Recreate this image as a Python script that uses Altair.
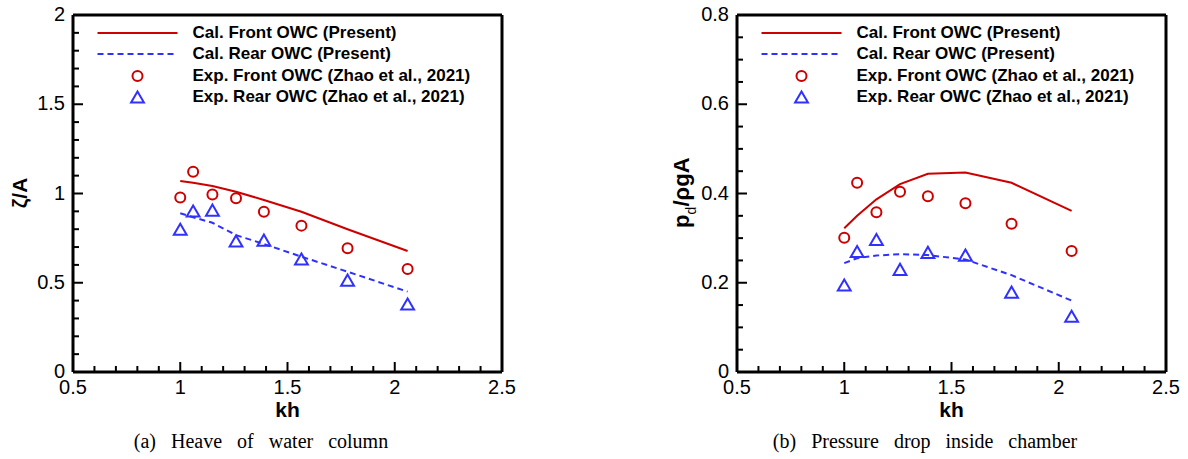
import altair as alt
import pandas as pd

# ---------------- data ----------------
kh = [1.0, 1.06, 1.15, 1.26, 1.39, 1.565, 1.78, 2.06]

heave_cal_front = [1.07, 1.06, 1.042, 1.01, 0.964, 0.898, 0.80, 0.678]
heave_cal_rear = [0.889, 0.867, 0.836, 0.767, 0.717, 0.646, 0.562, 0.45]
heave_exp_front = [0.978, 1.122, 0.995, 0.973, 0.898, 0.82, 0.693, 0.577]
heave_exp_rear = [0.80, 0.902, 0.907, 0.734, 0.739, 0.633, 0.515, 0.381]

press_cal_front = [0.322, 0.35, 0.387, 0.421, 0.444, 0.447, 0.424, 0.361]
press_cal_rear = [0.244, 0.255, 0.261, 0.264, 0.262, 0.252, 0.217, 0.16]
press_exp_front = [0.301, 0.424, 0.358, 0.404, 0.394, 0.378, 0.332, 0.271]
press_exp_rear = [0.195, 0.27, 0.297, 0.23, 0.268, 0.262, 0.179, 0.125]

x_major = [0.5, 1.0, 1.5, 2.0, 2.5]
x_minor = [0.6, 0.7, 0.8, 0.9, 1.1, 1.2, 1.3, 1.4, 1.6, 1.7, 1.8, 1.9, 2.1, 2.2, 2.3, 2.4]
heave_y_major = [0, 0.5, 1.0, 1.5, 2.0]
heave_y_minor = [0.1, 0.2, 0.3, 0.4, 0.6, 0.7, 0.8, 0.9, 1.1, 1.2, 1.3, 1.4, 1.6, 1.7, 1.8, 1.9]
press_y_major = [0, 0.2, 0.4, 0.6, 0.8]
press_y_minor = [0.05, 0.1, 0.15, 0.25, 0.3, 0.35, 0.45, 0.5, 0.55, 0.65, 0.7, 0.75]

legend_labels = [
    "Cal. Front OWC (Present)",
    "Cal. Rear OWC (Present)",
    "Exp. Front OWC (Zhao et al., 2021)",
    "Exp. Rear OWC (Zhao et al., 2021)",
]
captions = ["(a)\u2002\u00a0Heave\u2002\u00a0of\u2002\u00a0water\u2002\u00a0column",
            "(b)\u2002\u00a0Pressure\u2002\u00a0drop\u2002\u00a0inside\u2002\u00a0chamber"]

RED = "#cc0000"
BLUE = "#3030ff"
INK = "black"
SANS = "Liberation Sans"
SERIF = "Liberation Serif"

# whole drawing area (single layered chart)
TW, TH = 1178, 449
PW, PH = 429, 357          # size of each panel's frame
TOP = 10                   # frame top
BOT = TOP + PH             # frame bottom
LEFTS = [68, 732]          # frame left edges of the two panels


def one(v):
    return pd.DataFrame({"v": [v]})


def panel(x0, cal_f, cal_r, exp_f, exp_r, ymax, ymaj, ymin, caption):
    x1 = x0 + PW
    df = pd.DataFrame({"kh": kh, "cf": cal_f, "cr": cal_r, "ef": exp_f, "er": exp_r})
    xs = alt.Scale(domain=[0.5, 2.5], range=[x0, x1], nice=False, zero=False)
    ys = alt.Scale(domain=[0, ymax], range=[BOT, TOP], nice=False, zero=False)
    X = alt.X("kh:Q", scale=xs, axis=None)
    base = alt.Chart(df)
    out = [
        base.mark_line(color=RED, strokeWidth=2).encode(
            x=X, y=alt.Y("cf:Q", scale=ys, axis=None)),
        base.mark_line(color=BLUE, strokeWidth=2, strokeDash=[6, 4]).encode(
            x=X, y=alt.Y("cr:Q", scale=ys, axis=None)),
        base.mark_point(shape="circle", color=RED, size=100, strokeWidth=2,
                        opacity=1, filled=False).encode(
            x=X, y=alt.Y("ef:Q", scale=ys, axis=None)),
        base.mark_point(shape="triangle-up", color=BLUE, size=165, strokeWidth=2,
                        opacity=1, filled=False).encode(
            x=X, y=alt.Y("er:Q", scale=ys, axis=None)),
    ]

    # inward ticks
    def xt(vals, ln):
        return alt.Chart(pd.DataFrame({"t": vals})).mark_rule(
            color=INK, strokeWidth=2).encode(
            x=alt.X("t:Q", scale=xs, axis=None), y=alt.value(BOT), y2=alt.value(BOT - ln))

    def yt(vals, ln):
        return alt.Chart(pd.DataFrame({"t": vals})).mark_rule(
            color=INK, strokeWidth=2).encode(
            y=alt.Y("t:Q", scale=ys, axis=None), x=alt.value(x0), x2=alt.value(x0 + ln))

    out += [xt(x_major[1:-1], 10), xt(x_minor, 6), yt(ymaj[1:-1], 10), yt(ymin, 6)]

    # tick labels
    out.append(alt.Chart(pd.DataFrame({"t": x_major})).mark_text(
        align="center", baseline="top", font=SANS, fontSize=20, color=INK).encode(
        x=alt.X("t:Q", scale=xs, axis=None), y=alt.value(BOT + 6),
        text=alt.Text("t:Q", format="~g")))
    out.append(alt.Chart(pd.DataFrame({"t": ymaj})).mark_text(
        align="right", baseline="middle", font=SANS, fontSize=20, color=INK).encode(
        y=alt.Y("t:Q", scale=ys, axis=None), x=alt.value(x0 - 8),
        text=alt.Text("t:Q", format="~g")))

    # frame
    out += [
        alt.Chart(one(0)).mark_rule(color=INK, strokeWidth=3).encode(
            x=alt.value(x0), x2=alt.value(x1), y=alt.value(TOP)),
        alt.Chart(one(0)).mark_rule(color=INK, strokeWidth=3).encode(
            x=alt.value(x0), x2=alt.value(x1), y=alt.value(BOT)),
        alt.Chart(one(0)).mark_rule(color=INK, strokeWidth=3).encode(
            x=alt.value(x0), y=alt.value(TOP), y2=alt.value(BOT)),
        alt.Chart(one(0)).mark_rule(color=INK, strokeWidth=3).encode(
            x=alt.value(x1), y=alt.value(TOP), y2=alt.value(BOT)),
    ]

    # x title
    out.append(alt.Chart(one("kh")).mark_text(
        align="center", baseline="alphabetic", font=SANS, fontSize=21,
        fontWeight="bold", color=INK).encode(
        text="v:N", x=alt.value(x0 + PW / 2), y=alt.value(BOT + 45)))

    # legend
    rows = [TOP + 18, TOP + 39, TOP + 61, TOP + 82]
    out += [
        alt.Chart(one(0)).mark_rule(color=RED, strokeWidth=2).encode(
            x=alt.value(x0 + 24.5), x2=alt.value(x0 + 104.5), y=alt.value(rows[0])),
        alt.Chart(one(0)).mark_rule(color=BLUE, strokeWidth=2, strokeDash=[6, 4]).encode(
            x=alt.value(x0 + 24.5), x2=alt.value(x0 + 104.5), y=alt.value(rows[1])),
        alt.Chart(one(0)).mark_point(shape="circle", color=RED, size=100, strokeWidth=2,
                                     opacity=1, filled=False).encode(
            x=alt.value(x0 + 64.5), y=alt.value(rows[2])),
        alt.Chart(one(0)).mark_point(shape="triangle-up", color=BLUE, size=165,
                                     strokeWidth=2, opacity=1, filled=False).encode(
            x=alt.value(x0 + 64.5), y=alt.value(rows[3])),
    ]
    for i, lab in enumerate(legend_labels):
        out.append(alt.Chart(one(lab)).mark_text(
            align="left", baseline="middle", font=SANS, fontSize=17, fontWeight="bold",
            color=INK).encode(text="v:N", x=alt.value(x0 + 119.5), y=alt.value(rows[i])))

    # caption
    out.append(alt.Chart(one(caption)).mark_text(
        align="center", baseline="alphabetic", font=SERIF, fontSize=20,
        color=INK).encode(text="v:N", x=alt.value(x0 + 188), y=alt.value(TOP + 433)))
    return out


layers = []
layers += panel(LEFTS[0], heave_cal_front, heave_cal_rear, heave_exp_front,
                heave_exp_rear, 2.0, heave_y_major, heave_y_minor, captions[0])
layers += panel(LEFTS[1], press_cal_front, press_cal_rear, press_exp_front,
                press_exp_rear, 0.8, press_y_major, press_y_minor, captions[1])

# y titles
layers.append(alt.Chart(one("\u03b6/A")).mark_text(
    align="center", baseline="bottom", angle=270, font=SANS, fontSize=21,
    fontWeight="bold", color=INK).encode(
    text="v:N", x=alt.value(LEFTS[0] - 42), y=alt.value(TOP + 178)))
rx = LEFTS[1]
layers += [
    alt.Chart(one("p")).mark_text(align="left", baseline="alphabetic", angle=270, font=SANS,
                                 fontSize=22, fontWeight="bold", color=INK).encode(
        text="v:N", x=alt.value(rx - 48.5), y=alt.value(TOP + 213)),
    alt.Chart(one("d")).mark_text(align="left", baseline="alphabetic", angle=270, font=SANS,
                                 fontSize=14, color=INK).encode(
        text="v:N", x=alt.value(rx - 41), y=alt.value(TOP + 199.5)),
    alt.Chart(one("/\u03c1gA")).mark_text(align="left", baseline="alphabetic", angle=270,
                                         font=SANS, fontSize=22, fontWeight="bold",
                                         color=INK).encode(
        text="v:N", x=alt.value(rx - 48.5), y=alt.value(TOP + 191.5)),
]

chart = alt.layer(*layers).resolve_scale(
    x="independent", y="independent"
).properties(width=TW, height=TH).configure_view(strokeWidth=0)

chart.save("out.html", embed_options={"renderer": "svg", "actions": False})
